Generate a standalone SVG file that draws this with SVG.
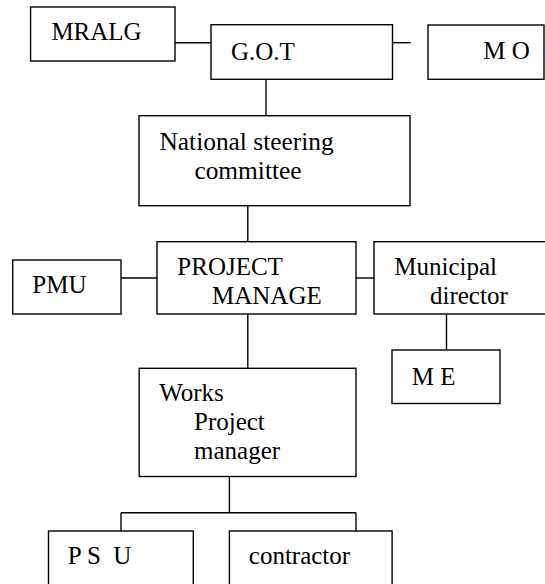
<svg xmlns="http://www.w3.org/2000/svg" width="545" height="584" viewBox="0 0 545 584">
<style>
rect{fill:#fff;stroke:#000;stroke-width:1.4}
line{stroke:#000;stroke-width:1.4}
text{font-family:'Liberation Serif','Times New Roman',serif;font-size:25px;fill:#000}
</style>
<rect x="0" y="0" width="545" height="584" style="stroke:none"/>
<g id="connectors">
<line x1="175" y1="42.7" x2="211" y2="42.7"/>
<line x1="392.5" y1="42.7" x2="410.7" y2="42.7"/>
<line x1="266" y1="79.3" x2="266" y2="115.7"/>
<line x1="247.8" y1="205.7" x2="247.8" y2="241.7"/>
<line x1="121" y1="278" x2="157" y2="278"/>
<line x1="356" y1="278" x2="374" y2="278"/>
<line x1="446.5" y1="314" x2="446.5" y2="350"/>
<line x1="247.8" y1="314" x2="247.8" y2="368.3"/>
<line x1="229.4" y1="476.5" x2="229.4" y2="512.7"/>
<line x1="121" y1="512.7" x2="356" y2="512.7"/>
<line x1="121" y1="512.7" x2="121" y2="531"/>
<line x1="356" y1="512.7" x2="356" y2="531"/>
</g>
<g id="mralg"><rect x="30.6" y="7" width="144.4" height="54"/><text x="51.4" y="40">MRALG</text></g>
<g id="got"><rect x="211" y="24.7" width="181.5" height="54.6"/><text x="231" y="59.5">G.O.T</text></g>
<g id="mo"><rect x="428" y="25" width="116" height="54.3"/><text x="483.3" y="58.5">M O</text></g>
<g id="nsc"><rect x="139" y="115.7" width="271" height="90"/><text x="159.5" y="150" style="font-size:25.4px">National steering</text><text x="194.4" y="179" style="font-size:25.4px">committee</text></g>
<g id="pm"><rect x="157" y="241.7" width="199" height="72.3"/><text x="177.3" y="275">PROJECT</text><text x="212" y="304">MANAGE</text></g>
<g id="pmu"><rect x="12.7" y="260" width="108.3" height="54"/><text x="32.3" y="293">PMU</text></g>
<g id="md"><rect x="374" y="241.7" width="180" height="72.3"/><text x="394.3" y="275">Municipal</text><text x="430" y="304">director</text></g>
<g id="me"><rect x="392" y="350" width="108" height="53.5"/><text x="411.7" y="385">M E</text></g>
<g id="wpm"><rect x="139.2" y="368.3" width="216.8" height="108.2"/><text x="159.2" y="401">Works</text><text x="194" y="430">Project</text><text x="194" y="458.5">manager</text></g>
<g id="psu"><rect x="48.5" y="531" width="144.8" height="60"/><text x="67.7" y="564.3" xml:space="preserve">P S  U</text></g>
<g id="contractor"><rect x="229.4" y="531" width="162.7" height="60"/><text x="248.8" y="564">contractor</text></g>
</svg>
